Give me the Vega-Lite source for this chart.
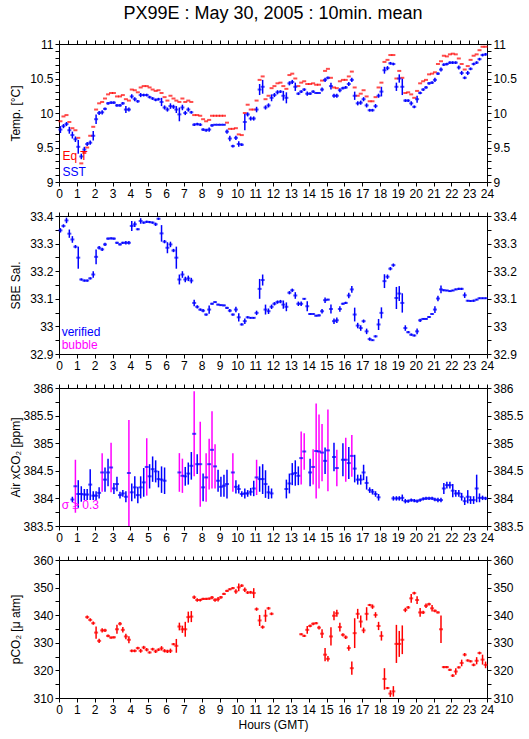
{
"$schema":"https://vega.github.io/schema/vega-lite/v6.json",
"padding":{"left":8,"right":5,"top":4,"bottom":5},
"title":{"text":"PX99E : May 30, 2005 : 10min. mean","fontSize":18,"fontWeight":"normal","color":"#000000","anchor":"middle","frame":"group","offset":15},
"spacing":34,
"bounds":"flush",
"config":{"font":"Liberation Sans","view":{"stroke":"#000000","strokeWidth":1},
"axis":{"grid":false,"domain":false,"tickColor":"#000000","labelColor":"#000000","titleColor":"#000000","labelFontSize":12,"titleFontSize":12,"titleFontWeight":"normal","tickSize":4,"labelPadding":2,"labelOverlap":false,"labelFlush":false,"labelBound":false}},
"datasets":{
"p1":[
{"t":0.08,"eq":9.88,"sst":9.76,"se":0.05},{"t":0.25,"eq":9.95,"sst":9.81,"se":0.03},{"t":0.42,"eq":9.97,"sst":9.84,"se":0.03},{"t":0.58,"eq":9.87,"sst":9.75,"se":0.05},{"t":0.75,"eq":9.78,"sst":9.68,"se":0.05},{"t":0.92,"eq":9.75,"sst":9.62,"se":0.04},
{"t":1.08,"eq":9.64,"sst":9.51,"se":0.1},{"t":1.25,"eq":9.27,"sst":9.37,"se":0.04},{"t":1.42,"eq":9.42,"sst":9.47,"se":0.04},{"t":1.58,"eq":9.5,"sst":9.55,"se":0.03},{"t":1.75,"eq":9.67,"sst":9.57,"se":0.03},{"t":1.92,"eq":9.8,"sst":9.67,"se":0.07},
{"t":2.08,"eq":10.05,"sst":9.91,"se":0.07},{"t":2.25,"eq":10.14,"sst":10.0,"se":0.03},{"t":2.42,"eq":10.16,"sst":10.01,"se":0.03},{"t":2.58,"eq":10.21,"sst":10.06,"se":0.02},{"t":2.75,"eq":10.27,"sst":10.14,"se":0.02},{"t":2.92,"eq":10.29,"sst":10.15,"se":0.02},
{"t":3.08,"eq":10.29,"sst":10.15,"se":0.02},{"t":3.25,"eq":10.24,"sst":10.11,"se":0.02},{"t":3.42,"eq":10.24,"sst":10.11,"se":0.02},{"t":3.58,"eq":10.26,"sst":10.14,"se":0.02},{"t":3.75,"eq":10.2,"sst":10.05,"se":0.05},{"t":3.92,"eq":10.18,"sst":10.05,"se":0.03},
{"t":4.08,"eq":10.34,"sst":10.24,"se":0.03},{"t":4.25,"eq":10.33,"sst":10.2,"se":0.03},{"t":4.42,"eq":10.3,"sst":10.17,"se":0.02},{"t":4.58,"eq":10.37,"sst":10.26,"se":0.03},{"t":4.75,"eq":10.39,"sst":10.26,"se":0.02},{"t":4.92,"eq":10.39,"sst":10.26,"se":0.02},
{"t":5.08,"eq":10.37,"sst":10.23,"se":0.02},{"t":5.25,"eq":10.34,"sst":10.21,"se":0.02},{"t":5.42,"eq":10.32,"sst":10.19,"se":0.02},{"t":5.58,"eq":10.33,"sst":10.2,"se":0.02},{"t":5.75,"eq":10.29,"sst":10.16,"se":0.06},{"t":5.92,"eq":10.23,"sst":10.08,"se":0.03},
{"t":6.08,"eq":10.18,"sst":10.05,"se":0.03},{"t":6.25,"eq":10.25,"sst":10.1,"se":0.04},{"t":6.42,"eq":10.21,"sst":10.09,"se":0.03},{"t":6.58,"eq":10.18,"sst":10.05,"se":0.05},{"t":6.75,"eq":10.16,"sst":9.98,"se":0.1},{"t":6.92,"eq":10.21,"sst":10.08,"se":0.04},
{"t":7.08,"eq":10.16,"sst":10.0,"se":0.03},{"t":7.25,"eq":10.18,"sst":10.05,"se":0.03},{"t":7.42,"eq":10.16,"sst":10.01,"se":0.02},{"t":7.58,"eq":9.97,"sst":9.83,"se":0.02},{"t":7.75,"eq":9.97,"sst":9.84,"se":0.02},{"t":7.92,"eq":9.96,"sst":9.83,"se":0.02},
{"t":8.08,"eq":9.91,"sst":9.76,"se":0.02},{"t":8.25,"eq":9.88,"sst":9.75,"se":0.02},{"t":8.42,"eq":9.9,"sst":9.76,"se":0.03},{"t":8.58,"eq":9.96,"sst":9.82,"se":0.02},{"t":8.75,"eq":9.96,"sst":9.83,"se":0.01},{"t":8.92,"eq":9.96,"sst":9.83,"se":0.01},
{"t":9.08,"eq":9.96,"sst":9.83,"se":0.01},{"t":9.25,"eq":9.96,"sst":9.83,"se":0.01},{"t":9.42,"eq":9.86,"sst":9.73,"se":0.03},{"t":9.58,"eq":9.77,"sst":9.63,"se":0.04},{"t":9.75,"eq":9.77,"sst":9.52,"se":0.02},{"t":9.92,"eq":9.78,"sst":9.64,"se":0.03},
{"t":10.08,"eq":9.69,"sst":9.55,"se":0.04},{"t":10.25,"eq":9.68,"sst":9.54,"se":0.02},{"t":10.42,"eq":10.0,"sst":9.87,"se":0.12},{"t":10.58,"eq":10.12,"sst":9.98,"se":0.03},{"t":10.75,"eq":10.05,"sst":9.92,"se":0.03},{"t":10.92,"eq":10.05,"sst":9.92,"se":0.03},
{"t":11.08,"eq":10.18,"sst":10.05,"se":0.04},{"t":11.25,"eq":10.48,"sst":10.34,"se":0.08},{"t":11.42,"eq":10.53,"sst":10.38,"se":0.1},{"t":11.58,"eq":10.2,"sst":10.08,"se":0.03},{"t":11.75,"eq":10.25,"sst":10.11,"se":0.03},{"t":11.92,"eq":10.36,"sst":10.22,"se":0.05},
{"t":12.08,"eq":10.39,"sst":10.26,"se":0.03},{"t":12.25,"eq":10.43,"sst":10.3,"se":0.03},{"t":12.42,"eq":10.44,"sst":10.31,"se":0.02},{"t":12.58,"eq":10.39,"sst":10.25,"se":0.07},{"t":12.75,"eq":10.35,"sst":10.22,"se":0.08},{"t":12.92,"eq":10.55,"sst":10.43,"se":0.03},
{"t":13.08,"eq":10.57,"sst":10.45,"se":0.03},{"t":13.25,"eq":10.5,"sst":10.38,"se":0.06},{"t":13.42,"eq":10.39,"sst":10.28,"se":0.02},{"t":13.58,"eq":10.44,"sst":10.31,"se":0.02},{"t":13.75,"eq":10.46,"sst":10.34,"se":0.02},{"t":13.92,"eq":10.42,"sst":10.28,"se":0.03},
{"t":14.08,"eq":10.42,"sst":10.28,"se":0.02},{"t":14.25,"eq":10.43,"sst":10.31,"se":0.02},{"t":14.42,"eq":10.41,"sst":10.29,"se":0.01},{"t":14.58,"eq":10.41,"sst":10.29,"se":0.01},{"t":14.75,"eq":10.47,"sst":10.34,"se":0.03},{"t":14.92,"eq":10.61,"sst":10.48,"se":0.03},
{"t":15.08,"eq":10.64,"sst":10.51,"se":0.02},{"t":15.25,"eq":10.51,"sst":10.39,"se":0.05},{"t":15.42,"eq":10.37,"sst":10.25,"se":0.03},{"t":15.58,"eq":10.36,"sst":10.25,"se":0.03},{"t":15.75,"eq":10.46,"sst":10.33,"se":0.03},{"t":15.92,"eq":10.48,"sst":10.36,"se":0.02},
{"t":16.08,"eq":10.48,"sst":10.37,"se":0.02},{"t":16.25,"eq":10.53,"sst":10.42,"se":0.03},{"t":16.42,"eq":10.6,"sst":10.48,"se":0.03},{"t":16.58,"eq":10.37,"sst":10.25,"se":0.06},{"t":16.75,"eq":10.25,"sst":10.14,"se":0.03},{"t":16.92,"eq":10.28,"sst":10.15,"se":0.03},
{"t":17.08,"eq":10.33,"sst":10.2,"se":0.03},{"t":17.25,"eq":10.24,"sst":10.11,"se":0.03},{"t":17.42,"eq":10.17,"sst":10.04,"se":0.02},{"t":17.58,"eq":10.17,"sst":10.04,"se":0.02},{"t":17.75,"eq":10.23,"sst":10.1,"se":0.03},{"t":17.92,"eq":10.37,"sst":10.25,"se":0.03},
{"t":18.08,"eq":10.44,"sst":10.31,"se":0.07},{"t":18.25,"eq":10.74,"sst":10.62,"se":0.05},{"t":18.42,"eq":10.77,"sst":10.65,"se":0.03},{"t":18.58,"eq":10.84,"sst":10.72,"se":0.02},{"t":18.75,"eq":10.84,"sst":10.71,"se":0.02},{"t":18.92,"eq":10.5,"sst":10.38,"se":0.06},
{"t":19.08,"eq":10.61,"sst":10.5,"se":0.06},{"t":19.25,"eq":10.51,"sst":10.38,"se":0.12},{"t":19.42,"eq":10.29,"sst":10.18,"se":0.02},{"t":19.58,"eq":10.3,"sst":10.18,"se":0.02},{"t":19.75,"eq":10.27,"sst":10.14,"se":0.03},{"t":19.92,"eq":10.22,"sst":10.09,"se":0.02},
{"t":20.08,"eq":10.32,"sst":10.2,"se":0.05},{"t":20.25,"eq":10.43,"sst":10.29,"se":0.02},{"t":20.42,"eq":10.46,"sst":10.34,"se":0.02},{"t":20.58,"eq":10.48,"sst":10.37,"se":0.02},{"t":20.75,"eq":10.56,"sst":10.43,"se":0.02},{"t":20.92,"eq":10.57,"sst":10.44,"se":0.02},
{"t":21.08,"eq":10.59,"sst":10.48,"se":0.03},{"t":21.25,"eq":10.71,"sst":10.57,"se":0.02},{"t":21.42,"eq":10.75,"sst":10.63,"se":0.03},{"t":21.58,"eq":10.83,"sst":10.7,"se":0.02},{"t":21.75,"eq":10.82,"sst":10.71,"se":0.02},{"t":21.92,"eq":10.85,"sst":10.73,"se":0.02},
{"t":22.08,"eq":10.86,"sst":10.73,"se":0.02},{"t":22.25,"eq":10.85,"sst":10.73,"se":0.02},{"t":22.42,"eq":10.79,"sst":10.66,"se":0.03},{"t":22.58,"eq":10.71,"sst":10.58,"se":0.03},{"t":22.75,"eq":10.63,"sst":10.51,"se":0.02},{"t":22.92,"eq":10.68,"sst":10.58,"se":0.03},
{"t":23.08,"eq":10.77,"sst":10.64,"se":0.02},{"t":23.25,"eq":10.83,"sst":10.71,"se":0.02},{"t":23.42,"eq":10.85,"sst":10.73,"se":0.02},{"t":23.58,"eq":10.91,"sst":10.78,"se":0.02},{"t":23.75,"eq":10.96,"sst":10.84,"se":0.02},{"t":23.92,"eq":10.96,"sst":10.85,"se":0.02}
],
"p2":[
{"t":0.08,"s":33.348,"e":0.008},{"t":0.25,"s":33.364,"e":0.006},{"t":0.42,"s":33.384,"e":0.01},{"t":0.58,"s":33.336,"e":0.015},{"t":0.75,"s":33.315,"e":0.012},{"t":0.92,"s":33.289,"e":0.006},
{"t":1.08,"s":33.249,"e":0.04},{"t":1.25,"s":33.17,"e":0.004},{"t":1.42,"s":33.166,"e":0.004},{"t":1.58,"s":33.166,"e":0.004},{"t":1.75,"s":33.174,"e":0.004},{"t":1.92,"s":33.188,"e":0.012},
{"t":2.08,"s":33.252,"e":0.027},{"t":2.25,"s":33.285,"e":0.006},{"t":2.42,"s":33.279,"e":0.006},{"t":2.58,"s":33.297,"e":0.006},{"t":2.75,"s":33.318,"e":0.004},{"t":2.92,"s":33.319,"e":0.004},
{"t":3.08,"s":33.318,"e":0.004},{"t":3.25,"s":33.303,"e":0.004},{"t":3.42,"s":33.297,"e":0.004},{"t":3.58,"s":33.303,"e":0.004},{"t":3.75,"s":33.303,"e":0.006},{"t":3.92,"s":33.303,"e":0.006},
{"t":4.08,"s":33.364,"e":0.018},{"t":4.25,"s":33.37,"e":0.01},{"t":4.42,"s":33.352,"e":0.004},{"t":4.58,"s":33.382,"e":0.01},{"t":4.75,"s":33.376,"e":0.004},{"t":4.92,"s":33.379,"e":0.004},
{"t":5.08,"s":33.378,"e":0.004},{"t":5.25,"s":33.376,"e":0.004},{"t":5.42,"s":33.37,"e":0.006},{"t":5.58,"s":33.39,"e":0.004},{"t":5.75,"s":33.337,"e":0.03},{"t":5.92,"s":33.307,"e":0.006},
{"t":6.08,"s":33.285,"e":0.02},{"t":6.25,"s":33.297,"e":0.01},{"t":6.42,"s":33.275,"e":0.006},{"t":6.58,"s":33.249,"e":0.04},{"t":6.75,"s":33.17,"e":0.018},{"t":6.92,"s":33.188,"e":0.012},
{"t":7.08,"s":33.17,"e":0.01},{"t":7.25,"s":33.174,"e":0.01},{"t":7.42,"s":33.166,"e":0.01},{"t":7.58,"s":33.085,"e":0.012},{"t":7.75,"s":33.071,"e":0.006},{"t":7.92,"s":33.061,"e":0.004},
{"t":8.08,"s":33.057,"e":0.006},{"t":8.25,"s":33.043,"e":0.004},{"t":8.42,"s":33.061,"e":0.015},{"t":8.58,"s":33.082,"e":0.004},{"t":8.75,"s":33.088,"e":0.003},{"t":8.92,"s":33.079,"e":0.003},
{"t":9.08,"s":33.077,"e":0.003},{"t":9.25,"s":33.076,"e":0.003},{"t":9.42,"s":33.067,"e":0.004},{"t":9.58,"s":33.057,"e":0.006},{"t":9.75,"s":33.043,"e":0.004},{"t":9.92,"s":33.061,"e":0.01},
{"t":10.08,"s":33.033,"e":0.015},{"t":10.25,"s":33.007,"e":0.004},{"t":10.42,"s":33.019,"e":0.01},{"t":10.58,"s":33.033,"e":0.004},{"t":10.75,"s":33.031,"e":0.003},{"t":10.92,"s":33.031,"e":0.003},
{"t":11.08,"s":33.049,"e":0.008},{"t":11.25,"s":33.136,"e":0.036},{"t":11.42,"s":33.168,"e":0.02},{"t":11.58,"s":33.061,"e":0.018},{"t":11.75,"s":33.055,"e":0.01},{"t":11.92,"s":33.071,"e":0.008},
{"t":12.08,"s":33.082,"e":0.006},{"t":12.25,"s":33.088,"e":0.006},{"t":12.42,"s":33.09,"e":0.006},{"t":12.58,"s":33.079,"e":0.015},{"t":12.75,"s":33.071,"e":0.016},{"t":12.92,"s":33.122,"e":0.006},
{"t":13.08,"s":33.131,"e":0.006},{"t":13.25,"s":33.112,"e":0.012},{"t":13.42,"s":33.082,"e":0.008},{"t":13.58,"s":33.082,"e":0.008},{"t":13.75,"s":33.1,"e":0.003},{"t":13.92,"s":33.073,"e":0.018},
{"t":14.08,"s":33.045,"e":0.004},{"t":14.25,"s":33.045,"e":0.003},{"t":14.42,"s":33.039,"e":0.003},{"t":14.58,"s":33.04,"e":0.004},{"t":14.75,"s":33.055,"e":0.008},{"t":14.92,"s":33.095,"e":0.01},
{"t":15.08,"s":33.097,"e":0.003},{"t":15.25,"s":33.063,"e":0.016},{"t":15.42,"s":33.019,"e":0.01},{"t":15.58,"s":33.022,"e":0.01},{"t":15.75,"s":33.063,"e":0.01},{"t":15.92,"s":33.082,"e":0.004},
{"t":16.08,"s":33.085,"e":0.004},{"t":16.25,"s":33.112,"e":0.01},{"t":16.42,"s":33.134,"e":0.012},{"t":16.58,"s":33.043,"e":0.025},{"t":16.75,"s":33.003,"e":0.01},{"t":16.92,"s":32.994,"e":0.01},
{"t":17.08,"s":33.019,"e":0.006},{"t":17.25,"s":32.982,"e":0.01},{"t":17.42,"s":32.954,"e":0.006},{"t":17.58,"s":32.95,"e":0.003},{"t":17.75,"s":32.964,"e":0.004},{"t":17.92,"s":33.007,"e":0.02},
{"t":18.08,"s":33.049,"e":0.02},{"t":18.25,"s":33.164,"e":0.025},{"t":18.42,"s":33.18,"e":0.008},{"t":18.58,"s":33.209,"e":0.006},{"t":18.75,"s":33.222,"e":0.006},{"t":18.92,"s":33.103,"e":0.04},
{"t":19.08,"s":33.119,"e":0.027},{"t":19.25,"s":33.085,"e":0.035},{"t":19.42,"s":32.994,"e":0.01},{"t":19.58,"s":32.979,"e":0.004},{"t":19.75,"s":32.97,"e":0.004},{"t":19.92,"s":32.967,"e":0.004},
{"t":20.08,"s":32.982,"e":0.01},{"t":20.25,"s":33.022,"e":0.006},{"t":20.42,"s":33.027,"e":0.003},{"t":20.58,"s":33.027,"e":0.003},{"t":20.75,"s":33.034,"e":0.004},{"t":20.92,"s":33.045,"e":0.003},
{"t":21.08,"s":33.061,"e":0.012},{"t":21.25,"s":33.101,"e":0.01},{"t":21.42,"s":33.134,"e":0.014},{"t":21.58,"s":33.131,"e":0.004},{"t":21.75,"s":33.13,"e":0.003},{"t":21.92,"s":33.128,"e":0.003},
{"t":22.08,"s":33.13,"e":0.003},{"t":22.25,"s":33.134,"e":0.003},{"t":22.42,"s":33.136,"e":0.004},{"t":22.58,"s":33.136,"e":0.004},{"t":22.75,"s":33.113,"e":0.01},{"t":22.92,"s":33.093,"e":0.003},
{"t":23.08,"s":33.092,"e":0.003},{"t":23.25,"s":33.093,"e":0.004},{"t":23.42,"s":33.097,"e":0.003},{"t":23.58,"s":33.102,"e":0.003},{"t":23.75,"s":33.102,"e":0.003},{"t":23.92,"s":33.102,"e":0.003}
],
"p3":[
{"t":0.75,"c":383.98,"e":0.05,"q":"v"},{"t":0.92,"c":384.22,"e":0.48,"q":"b"},
{"t":1.08,"c":384.08,"e":0.25,"q":"v"},{"t":1.25,"c":384.08,"e":0.14,"q":"v"},{"t":1.42,"c":384.07,"e":0.1,"q":"v"},{"t":1.58,"c":384.07,"e":0.1,"q":"v"},{"t":1.75,"c":384.25,"e":0.28,"q":"v"},{"t":1.92,"c":384.05,"e":0.08,"q":"v"},
{"t":2.08,"c":384.05,"e":0.08,"q":"v"},{"t":2.25,"c":384.1,"e":0.1,"q":"v"},{"t":2.42,"c":384.47,"e":0.35,"q":"b"},{"t":2.58,"c":384.34,"e":0.22,"q":"v"},{"t":2.75,"c":384.47,"e":0.25,"q":"v"},{"t":2.92,"c":384.56,"e":0.45,"q":"b"},
{"t":3.08,"c":384.18,"e":0.1,"q":"v"},{"t":3.25,"c":384.26,"e":0.13,"q":"v"},{"t":3.42,"c":384.06,"e":0.06,"q":"v"},{"t":3.58,"c":384.09,"e":0.06,"q":"v"},{"t":3.75,"c":384.03,"e":0.1,"q":"v"},{"t":3.92,"c":384.46,"e":0.96,"q":"b"},
{"t":4.08,"c":384.11,"e":0.16,"q":"v"},{"t":4.25,"c":384.2,"e":0.2,"q":"v"},{"t":4.42,"c":384.06,"e":0.15,"q":"v"},{"t":4.58,"c":384.2,"e":0.2,"q":"v"},{"t":4.75,"c":384.29,"e":0.26,"q":"v"},{"t":4.92,"c":384.57,"e":0.52,"q":"b"},
{"t":5.08,"c":384.4,"e":0.22,"q":"v"},{"t":5.25,"c":384.53,"e":0.23,"q":"v"},{"t":5.42,"c":384.49,"e":0.2,"q":"v"},{"t":5.58,"c":384.35,"e":0.15,"q":"v"},{"t":5.75,"c":384.34,"e":0.24,"q":"v"},{"t":5.92,"c":384.32,"e":0.24,"q":"v"},
{"t":6.75,"c":384.47,"e":0.35,"q":"b"},{"t":6.92,"c":384.41,"e":0.31,"q":"b"},
{"t":7.08,"c":384.4,"e":0.17,"q":"v"},{"t":7.25,"c":384.45,"e":0.2,"q":"v"},{"t":7.42,"c":384.59,"e":0.25,"q":"v"},{"t":7.58,"c":385.17,"e":0.77,"q":"b"},{"t":7.75,"c":384.62,"e":0.18,"q":"v"},{"t":7.92,"c":384.62,"e":0.77,"q":"b"},
{"t":8.08,"c":384.2,"e":0.25,"q":"v"},{"t":8.25,"c":384.38,"e":0.44,"q":"b"},{"t":8.42,"c":384.62,"e":0.46,"q":"b"},{"t":8.58,"c":384.88,"e":0.7,"q":"b"},{"t":8.75,"c":384.58,"e":0.4,"q":"b"},{"t":8.92,"c":384.32,"e":0.2,"q":"v"},
{"t":9.08,"c":384.21,"e":0.18,"q":"v"},{"t":9.25,"c":384.23,"e":0.2,"q":"v"},{"t":9.42,"c":384.26,"e":0.26,"q":"v"},{"t":9.75,"c":384.47,"e":0.35,"q":"b"},{"t":9.92,"c":384.21,"e":0.12,"q":"v"},
{"t":10.08,"c":384.17,"e":0.08,"q":"v"},{"t":10.25,"c":384.08,"e":0.05,"q":"v"},{"t":10.42,"c":384.09,"e":0.09,"q":"v"},{"t":10.58,"c":384.09,"e":0.06,"q":"v"},{"t":10.75,"c":384.12,"e":0.07,"q":"v"},{"t":10.92,"c":384.18,"e":0.14,"q":"v"},
{"t":11.08,"c":384.38,"e":0.32,"q":"b"},{"t":11.25,"c":384.35,"e":0.23,"q":"v"},{"t":11.42,"c":384.35,"e":0.27,"q":"v"},{"t":11.58,"c":384.26,"e":0.25,"q":"v"},{"t":11.75,"c":384.11,"e":0.12,"q":"v"},{"t":11.92,"c":384.09,"e":0.09,"q":"v"},
{"t":12.75,"c":384.17,"e":0.17,"q":"v"},{"t":12.92,"c":384.27,"e":0.18,"q":"v"},
{"t":13.08,"c":384.44,"e":0.2,"q":"v"},{"t":13.25,"c":384.46,"e":0.23,"q":"v"},{"t":13.42,"c":384.41,"e":0.17,"q":"v"},{"t":13.58,"c":384.73,"e":0.48,"q":"b"},{"t":13.75,"c":384.85,"e":0.33,"q":"b"},
{"t":14.08,"c":384.47,"e":0.25,"q":"v"},{"t":14.25,"c":384.57,"e":0.32,"q":"b"},{"t":14.42,"c":384.86,"e":0.86,"q":"b"},{"t":14.58,"c":384.85,"e":0.67,"q":"b"},{"t":14.75,"c":384.83,"e":0.52,"q":"b"},{"t":14.92,"c":384.68,"e":0.24,"q":"v"},
{"t":15.08,"c":384.87,"e":0.74,"q":"b"},{"t":15.42,"c":384.75,"e":0.26,"q":"v"},{"t":15.58,"c":384.55,"e":0.33,"q":"b"},{"t":15.92,"c":384.7,"e":0.3,"q":"v"},
{"t":16.08,"c":384.7,"e":0.4,"q":"b"},{"t":16.25,"c":384.64,"e":0.29,"q":"v"},{"t":16.42,"c":384.77,"e":0.38,"q":"b"},{"t":16.58,"c":384.54,"e":0.25,"q":"v"},{"t":16.75,"c":384.34,"e":0.09,"q":"v"},{"t":16.92,"c":384.34,"e":0.09,"q":"v"},
{"t":17.08,"c":384.47,"e":0.14,"q":"v"},{"t":17.25,"c":384.28,"e":0.12,"q":"v"},{"t":17.42,"c":384.15,"e":0.05,"q":"v"},{"t":17.58,"c":384.12,"e":0.05,"q":"v"},{"t":17.75,"c":384.08,"e":0.05,"q":"v"},{"t":17.92,"c":384.02,"e":0.06,"q":"v"},
{"t":18.75,"c":384.0,"e":0.04,"q":"v"},{"t":18.92,"c":384.0,"e":0.04,"q":"v"},
{"t":19.08,"c":384.0,"e":0.04,"q":"v"},{"t":19.25,"c":384.01,"e":0.06,"q":"v"},{"t":19.42,"c":383.95,"e":0.04,"q":"v"},{"t":19.58,"c":383.95,"e":0.03,"q":"v"},{"t":19.75,"c":383.97,"e":0.03,"q":"v"},{"t":19.92,"c":383.96,"e":0.03,"q":"v"},
{"t":20.08,"c":383.95,"e":0.03,"q":"v"},{"t":20.25,"c":383.97,"e":0.03,"q":"v"},{"t":20.42,"c":383.99,"e":0.03,"q":"v"},{"t":20.58,"c":384.0,"e":0.03,"q":"v"},{"t":20.75,"c":384.0,"e":0.03,"q":"v"},{"t":20.92,"c":384.0,"e":0.03,"q":"v"},
{"t":21.08,"c":383.98,"e":0.03,"q":"v"},{"t":21.25,"c":383.97,"e":0.04,"q":"v"},{"t":21.42,"c":383.97,"e":0.04,"q":"v"},{"t":21.58,"c":384.18,"e":0.1,"q":"v"},{"t":21.75,"c":384.24,"e":0.06,"q":"v"},{"t":21.92,"c":384.24,"e":0.06,"q":"v"},
{"t":22.08,"c":384.14,"e":0.12,"q":"v"},{"t":22.25,"c":384.09,"e":0.06,"q":"v"},{"t":22.42,"c":384.09,"e":0.06,"q":"v"},{"t":22.58,"c":384.03,"e":0.07,"q":"v"},{"t":22.75,"c":383.95,"e":0.07,"q":"v"},{"t":22.92,"c":384.03,"e":0.12,"q":"v"},
{"t":23.08,"c":383.97,"e":0.07,"q":"v"},{"t":23.25,"c":383.97,"e":0.07,"q":"v"},{"t":23.42,"c":384.18,"e":0.25,"q":"v"},{"t":23.58,"c":384.01,"e":0.08,"q":"v"},{"t":23.75,"c":384.01,"e":0.04,"q":"v"},{"t":23.92,"c":384.0,"e":0.03,"q":"v"}
],
"p4":[
{"t":1.58,"p":339.3,"e":0.6},{"t":1.75,"p":338.3,"e":0.6},{"t":1.92,"p":337.1,"e":0.6},
{"t":2.08,"p":333.7,"e":2.2},{"t":2.25,"p":330.7,"e":0.8},{"t":2.42,"p":334.5,"e":0.8},{"t":2.58,"p":334.5,"e":0.6},{"t":2.75,"p":332.5,"e":0.5},{"t":2.92,"p":331.9,"e":0.4},
{"t":3.08,"p":332.0,"e":0.4},{"t":3.25,"p":334.9,"e":1.6},{"t":3.42,"p":336.9,"e":0.6},{"t":3.58,"p":334.7,"e":1.0},{"t":3.75,"p":332.3,"e":1.0},{"t":3.92,"p":331.1,"e":1.3},
{"t":4.08,"p":327.1,"e":0.5},{"t":4.25,"p":327.1,"e":0.5},{"t":4.42,"p":328.1,"e":0.5},{"t":4.58,"p":327.1,"e":0.7},{"t":4.75,"p":328.3,"e":0.6},{"t":4.92,"p":327.5,"e":0.6},
{"t":5.08,"p":326.5,"e":0.4},{"t":5.25,"p":327.7,"e":0.5},{"t":5.42,"p":326.9,"e":0.6},{"t":5.58,"p":327.5,"e":0.5},{"t":5.75,"p":328.0,"e":0.8},{"t":5.92,"p":327.1,"e":0.6},
{"t":6.08,"p":326.9,"e":0.6},{"t":6.25,"p":327.1,"e":0.8},{"t":6.42,"p":329.5,"e":0.4},{"t":6.58,"p":328.9,"e":2.5},{"t":6.75,"p":335.9,"e":1.4},{"t":6.92,"p":334.9,"e":1.3},
{"t":7.08,"p":334.9,"e":2.7},{"t":7.25,"p":339.3,"e":2.0},{"t":7.42,"p":339.5,"e":2.0},{"t":7.58,"p":346.5,"e":0.6},{"t":7.75,"p":345.5,"e":0.6},{"t":7.92,"p":345.5,"e":0.5},
{"t":8.08,"p":345.9,"e":0.4},{"t":8.25,"p":345.9,"e":0.4},{"t":8.42,"p":346.0,"e":0.4},{"t":8.58,"p":346.4,"e":0.6},{"t":8.75,"p":345.5,"e":0.6},{"t":8.92,"p":345.8,"e":0.8},
{"t":9.08,"p":346.5,"e":0.5},{"t":9.25,"p":347.7,"e":0.4},{"t":9.42,"p":348.8,"e":0.4},{"t":9.58,"p":349.4,"e":0.4},{"t":9.75,"p":349.8,"e":0.4},{"t":9.92,"p":348.6,"e":0.8},
{"t":10.08,"p":350.1,"e":1.4},{"t":10.25,"p":350.7,"e":0.5},{"t":10.42,"p":349.2,"e":0.8},{"t":10.58,"p":348.2,"e":0.5},{"t":10.75,"p":348.3,"e":0.5},{"t":10.92,"p":348.0,"e":1.8},
{"t":11.08,"p":342.2,"e":0.6},{"t":11.25,"p":338.1,"e":2.0},{"t":11.42,"p":335.7,"e":0.6},{"t":11.58,"p":339.8,"e":2.2},{"t":11.75,"p":342.5,"e":0.5},{"t":11.92,"p":340.5,"e":0.5},
{"t":13.58,"p":333.1,"e":0.4},{"t":13.75,"p":332.5,"e":0.4},{"t":13.92,"p":334.7,"e":1.4},
{"t":14.08,"p":336.1,"e":0.5},{"t":14.25,"p":336.9,"e":0.5},{"t":14.42,"p":337.1,"e":0.4},{"t":14.58,"p":335.5,"e":0.7},{"t":14.75,"p":333.3,"e":1.6},{"t":14.92,"p":325.7,"e":2.4},
{"t":15.08,"p":324.2,"e":1.0},{"t":15.25,"p":332.3,"e":3.3},{"t":15.42,"p":339.8,"e":1.6},{"t":15.58,"p":340.7,"e":1.3},{"t":15.75,"p":335.7,"e":1.6},{"t":15.92,"p":332.9,"e":0.6},
{"t":16.08,"p":332.0,"e":0.6},{"t":16.25,"p":328.1,"e":1.0},{"t":16.42,"p":320.8,"e":2.4},{"t":16.58,"p":333.5,"e":5.4},{"t":16.75,"p":340.5,"e":1.8},{"t":16.92,"p":337.7,"e":2.2},
{"t":17.08,"p":334.5,"e":1.0},{"t":17.25,"p":340.5,"e":2.4},{"t":17.42,"p":343.7,"e":0.4},{"t":17.58,"p":343.1,"e":0.8},{"t":17.75,"p":340.1,"e":1.0},{"t":17.92,"p":336.1,"e":1.5},
{"t":18.08,"p":332.5,"e":1.7},{"t":18.25,"p":316.9,"e":3.9},{"t":18.42,"p":313.6,"e":0.4},{"t":18.58,"p":311.6,"e":1.2},{"t":18.75,"p":312.4,"e":1.9},{"t":18.92,"p":329.6,"e":6.9},
{"t":19.08,"p":329.6,"e":4.7},{"t":19.25,"p":331.1,"e":5.2},{"t":19.42,"p":341.9,"e":0.8},{"t":19.58,"p":342.8,"e":0.5},{"t":19.75,"p":346.1,"e":1.6},{"t":19.92,"p":348.0,"e":0.5},
{"t":20.08,"p":345.5,"e":1.4},{"t":20.25,"p":341.0,"e":1.6},{"t":20.42,"p":341.0,"e":0.6},{"t":20.58,"p":343.4,"e":0.8},{"t":20.75,"p":344.0,"e":0.5},{"t":20.92,"p":342.5,"e":1.2},
{"t":21.08,"p":341.6,"e":0.5},{"t":21.25,"p":341.0,"e":0.4},{"t":21.42,"p":334.9,"e":5.0},{"t":21.58,"p":321.2,"e":0.4},{"t":21.75,"p":321.2,"e":0.4},{"t":21.92,"p":320.2,"e":0.4},
{"t":22.08,"p":318.1,"e":0.5},{"t":22.25,"p":319.6,"e":1.2},{"t":22.42,"p":321.1,"e":0.4},{"t":22.58,"p":322.7,"e":1.2},{"t":22.75,"p":325.7,"e":0.6},{"t":22.92,"p":323.6,"e":0.4},
{"t":23.08,"p":323.3,"e":0.4},{"t":23.25,"p":322.0,"e":0.5},{"t":23.42,"p":323.5,"e":1.3},{"t":23.58,"p":326.3,"e":0.5},{"t":23.75,"p":323.9,"e":1.8},{"t":23.92,"p":322.0,"e":1.2}
]
},
"vconcat":[
{"width":428,"height":138,"data":{"name":"p1"},
"resolve":{"axis":{"x":"independent","y":"independent"}},
"layer":[
{"mark":{"type":"errorbar","color":"#0000ff","thickness":1.5},
"encoding":{"x":{"field":"t","type":"quantitative","scale":{"domain":[0,24],"nice":false,"zero":false},"axis":{"orient":"bottom","title":null,"format":"d","values":[0,0.5,1,1.5,2,2.5,3,3.5,4,4.5,5,5.5,6,6.5,7,7.5,8,8.5,9,9.5,10,10.5,11,11.5,12,12.5,13,13.5,14,14.5,15,15.5,16,16.5,17,17.5,18,18.5,19,19.5,20,20.5,21,21.5,22,22.5,23,23.5,24],"labelExpr":"datum.value % 1 == 0 ? datum.label : ''"}},
"y":{"field":"sst","type":"quantitative","scale":{"domain":[9,11],"nice":false,"zero":false},"axis":{"orient":"left","title":"Temp. [°C]","titleX":-44,"titleY":69,"titleAngle":-90,"titleBaseline":"middle","titleAlign":"center","format":".1~f","values":[9,9.1,9.2,9.3,9.4,9.5,9.6,9.7,9.8,9.9,10,10.1,10.2,10.3,10.4,10.5,10.6,10.7,10.8,10.9,11],"labelExpr":"round(datum.value*10) % 5 == 0 ? datum.label : ''"}},
"yError":{"field":"se"}}},
{"mark":{"type":"tick","orient":"horizontal","size":4,"thickness":2,"color":"#ff0000"},
"encoding":{"x":{"field":"t","type":"quantitative","scale":{"domain":[0,24],"nice":false,"zero":false},"axis":{"orient":"top","title":null,"labels":false,"values":[0,0.5,1,1.5,2,2.5,3,3.5,4,4.5,5,5.5,6,6.5,7,7.5,8,8.5,9,9.5,10,10.5,11,11.5,12,12.5,13,13.5,14,14.5,15,15.5,16,16.5,17,17.5,18,18.5,19,19.5,20,20.5,21,21.5,22,22.5,23,23.5,24]}},
"y":{"field":"eq","type":"quantitative","scale":{"domain":[9,11],"nice":false,"zero":false},"axis":{"orient":"right","title":null,"format":".1~f","values":[9,9.1,9.2,9.3,9.4,9.5,9.6,9.7,9.8,9.9,10,10.1,10.2,10.3,10.4,10.5,10.6,10.7,10.8,10.9,11],"labelExpr":"round(datum.value*10) % 5 == 0 ? datum.label : ''"}}}},
{"mark":{"type":"tick","orient":"horizontal","size":4,"thickness":2,"color":"#0000ff"},
"encoding":{"x":{"field":"t","type":"quantitative","axis":null},"y":{"field":"sst","type":"quantitative","axis":null}}},
{"data":{"values":[{}]},"mark":{"type":"text","align":"left","baseline":"middle","fontSize":12,"color":"#ff0000"},
"encoding":{"x":{"datum":0.2,"type":"quantitative","axis":null},"y":{"datum":9.37,"type":"quantitative","axis":null},"text":{"value":"Eq T"}}},
{"data":{"values":[{}]},"mark":{"type":"text","align":"left","baseline":"middle","fontSize":12,"color":"#0000ff"},
"encoding":{"x":{"datum":0.2,"type":"quantitative","axis":null},"y":{"datum":9.15,"type":"quantitative","axis":null},"text":{"value":"SST"}}}
]},
{"width":428,"height":138,"data":{"name":"p2"},
"resolve":{"axis":{"x":"independent","y":"independent"}},
"layer":[
{"mark":{"type":"errorbar","color":"#0000ff","thickness":1.5},
"encoding":{"x":{"field":"t","type":"quantitative","scale":{"domain":[0,24],"nice":false,"zero":false},"axis":{"orient":"bottom","title":null,"format":"d","values":[0,0.5,1,1.5,2,2.5,3,3.5,4,4.5,5,5.5,6,6.5,7,7.5,8,8.5,9,9.5,10,10.5,11,11.5,12,12.5,13,13.5,14,14.5,15,15.5,16,16.5,17,17.5,18,18.5,19,19.5,20,20.5,21,21.5,22,22.5,23,23.5,24],"labelExpr":"datum.value % 1 == 0 ? datum.label : ''"}},
"y":{"field":"s","type":"quantitative","scale":{"domain":[32.9,33.4],"nice":false,"zero":false},"axis":{"orient":"left","title":"SBE Sal.","titleX":-44,"titleY":69,"titleAngle":-90,"titleBaseline":"middle","titleAlign":"center","format":".1~f","values":[32.9,32.95,33,33.05,33.1,33.15,33.2,33.25,33.3,33.35,33.4],"labelExpr":"round(datum.value*100) % 10 == 0 ? datum.label : ''"}},
"yError":{"field":"e"}}},
{"mark":{"type":"tick","orient":"horizontal","size":4,"thickness":2,"color":"#0000ff"},
"encoding":{"x":{"field":"t","type":"quantitative","scale":{"domain":[0,24],"nice":false,"zero":false},"axis":{"orient":"top","title":null,"labels":false,"values":[0,0.5,1,1.5,2,2.5,3,3.5,4,4.5,5,5.5,6,6.5,7,7.5,8,8.5,9,9.5,10,10.5,11,11.5,12,12.5,13,13.5,14,14.5,15,15.5,16,16.5,17,17.5,18,18.5,19,19.5,20,20.5,21,21.5,22,22.5,23,23.5,24]}},
"y":{"field":"s","type":"quantitative","scale":{"domain":[32.9,33.4],"nice":false,"zero":false},"axis":{"orient":"right","title":null,"format":".1~f","values":[32.9,32.95,33,33.05,33.1,33.15,33.2,33.25,33.3,33.35,33.4],"labelExpr":"round(datum.value*100) % 10 == 0 ? datum.label : ''"}}}},
{"data":{"values":[{}]},"mark":{"type":"text","align":"left","baseline":"middle","fontSize":12,"color":"#0000ff"},
"encoding":{"x":{"datum":0.15,"type":"quantitative","axis":null},"y":{"datum":32.981,"type":"quantitative","axis":null},"text":{"value":"verified"}}},
{"data":{"values":[{}]},"mark":{"type":"text","align":"left","baseline":"middle","fontSize":12,"color":"#ff00ff"},
"encoding":{"x":{"datum":0.15,"type":"quantitative","axis":null},"y":{"datum":32.934,"type":"quantitative","axis":null},"text":{"value":"bubble"}}}
]},
{"width":428,"height":138,"data":{"name":"p3"},
"resolve":{"axis":{"x":"independent","y":"independent"}},
"layer":[
{"mark":{"type":"errorbar","thickness":1.5},
"encoding":{"x":{"field":"t","type":"quantitative","scale":{"domain":[0,24],"nice":false,"zero":false},"axis":{"orient":"bottom","title":null,"format":"d","values":[0,0.5,1,1.5,2,2.5,3,3.5,4,4.5,5,5.5,6,6.5,7,7.5,8,8.5,9,9.5,10,10.5,11,11.5,12,12.5,13,13.5,14,14.5,15,15.5,16,16.5,17,17.5,18,18.5,19,19.5,20,20.5,21,21.5,22,22.5,23,23.5,24],"labelExpr":"datum.value % 1 == 0 ? datum.label : ''"}},
"y":{"field":"c","type":"quantitative","scale":{"domain":[383.5,386],"nice":false,"zero":false},"axis":{"orient":"left","title":"Air xCO₂ [ppm]","titleX":-44,"titleY":69,"titleAngle":-90,"titleBaseline":"middle","titleAlign":"center","format":".1~f","values":[383.5,383.75,384,384.25,384.5,384.75,385,385.25,385.5,385.75,386],"labelExpr":"round(datum.value*4) % 2 == 0 ? datum.label : ''"}},
"yError":{"field":"e"},
"color":{"field":"q","type":"nominal","scale":{"domain":["v","b"],"range":["#0000ff","#ff00ff"]},"legend":null}}},
{"mark":{"type":"tick","orient":"horizontal","size":4,"thickness":2,"color":"#0000ff"},
"encoding":{"x":{"field":"t","type":"quantitative","scale":{"domain":[0,24],"nice":false,"zero":false},"axis":{"orient":"top","title":null,"labels":false,"values":[0,0.5,1,1.5,2,2.5,3,3.5,4,4.5,5,5.5,6,6.5,7,7.5,8,8.5,9,9.5,10,10.5,11,11.5,12,12.5,13,13.5,14,14.5,15,15.5,16,16.5,17,17.5,18,18.5,19,19.5,20,20.5,21,21.5,22,22.5,23,23.5,24]}},
"y":{"field":"c","type":"quantitative","scale":{"domain":[383.5,386],"nice":false,"zero":false},"axis":{"orient":"right","title":null,"format":".1~f","values":[383.5,383.75,384,384.25,384.5,384.75,385,385.25,385.5,385.75,386],"labelExpr":"round(datum.value*4) % 2 == 0 ? datum.label : ''"}}}},
{"data":{"values":[{}]},"mark":{"type":"text","align":"left","baseline":"middle","fontSize":12,"color":"#ff00ff"},
"encoding":{"x":{"datum":0.15,"type":"quantitative","axis":null},"y":{"datum":383.88,"type":"quantitative","axis":null},"text":{"value":"σ ≥ 0.3"}}}
]},
{"width":428,"height":138,"data":{"name":"p4"},
"resolve":{"axis":{"x":"independent","y":"independent"}},
"layer":[
{"mark":{"type":"errorbar","color":"#ff0000","thickness":1.5},
"encoding":{"x":{"field":"t","type":"quantitative","scale":{"domain":[0,24],"nice":false,"zero":false},"axis":{"orient":"bottom","title":"Hours (GMT)","titlePadding":4,"format":"d","values":[0,0.5,1,1.5,2,2.5,3,3.5,4,4.5,5,5.5,6,6.5,7,7.5,8,8.5,9,9.5,10,10.5,11,11.5,12,12.5,13,13.5,14,14.5,15,15.5,16,16.5,17,17.5,18,18.5,19,19.5,20,20.5,21,21.5,22,22.5,23,23.5,24],"labelExpr":"datum.value % 1 == 0 ? datum.label : ''"}},
"y":{"field":"p","type":"quantitative","scale":{"domain":[310,360],"nice":false,"zero":false},"axis":{"orient":"left","title":"pCO₂ [μ atm]","titleX":-44,"titleY":69,"titleAngle":-90,"titleBaseline":"middle","titleAlign":"center","format":"d","values":[310,315,320,325,330,335,340,345,350,355,360],"labelExpr":"datum.value % 10 == 0 ? datum.label : ''"}},
"yError":{"field":"e"}}},
{"mark":{"type":"tick","orient":"horizontal","size":4,"thickness":2,"color":"#ff0000"},
"encoding":{"x":{"field":"t","type":"quantitative","scale":{"domain":[0,24],"nice":false,"zero":false},"axis":{"orient":"top","title":null,"labels":false,"values":[0,0.5,1,1.5,2,2.5,3,3.5,4,4.5,5,5.5,6,6.5,7,7.5,8,8.5,9,9.5,10,10.5,11,11.5,12,12.5,13,13.5,14,14.5,15,15.5,16,16.5,17,17.5,18,18.5,19,19.5,20,20.5,21,21.5,22,22.5,23,23.5,24]}},
"y":{"field":"p","type":"quantitative","scale":{"domain":[310,360],"nice":false,"zero":false},"axis":{"orient":"right","title":null,"format":"d","values":[310,315,320,325,330,335,340,345,350,355,360],"labelExpr":"datum.value % 10 == 0 ? datum.label : ''"}}}}
]}
]
}
